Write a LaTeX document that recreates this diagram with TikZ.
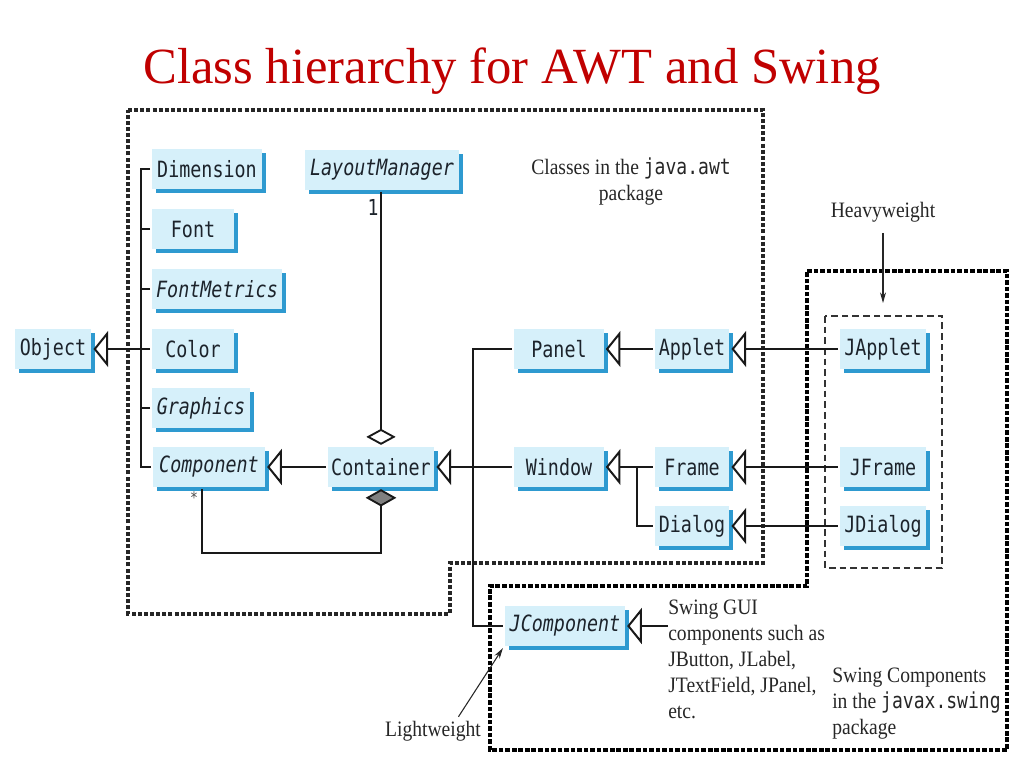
\documentclass[tikz,border=0pt]{standalone}
\usepackage{fontspec}
\setmainfont{Liberation Serif}
\newfontfamily\clsfont[FakeStretch=0.82]{DejaVu Sans Mono}
\newfontfamily\notefont[FakeStretch=0.89]{Liberation Serif}
\usetikzlibrary{arrows.meta,shadows}
\definecolor{boxfill}{HTML}{D6F0FA}
\definecolor{boxshadow}{HTML}{2E9AD0}
\definecolor{titlered}{HTML}{C00000}
\definecolor{clstext}{HTML}{1C232B}
\tikzset{
  cls/.style={rectangle, fill=boxfill, minimum height=30pt, inner sep=2pt, outer sep=1.6pt,
    font=\clsfont\fontsize{16.8pt}{18pt}\selectfont, text=clstext,
    drop shadow={shadow xshift=3pt, shadow yshift=-3pt, fill=boxshadow, opacity=1}},
  abs/.style={cls, font=\clsfont\itshape\fontsize{16.8pt}{18pt}\selectfont},
  link/.style={line width=1.9pt, draw=black!90},
  gen/.style={link, -{Triangle[open, length=11pt, width=27pt, line width=1.5pt]}},
  agg/.style={link, -{Diamond[open, length=12pt, width=22pt, line width=1.4pt]}},
  comp/.style={link, -{Diamond[fill=gray, length=13pt, width=23pt, line width=1.4pt]}},
  awtbox/.style={line width=2.4pt, draw=black!85, dash pattern=on 3pt off 1.6pt},
  swingbox/.style={line width=3pt, draw=black, dash pattern=on 3.5pt off 1.4pt},
  heavybox/.style={line width=0.9pt, draw=black!80, dash pattern=on 5pt off 3pt},
  note/.style={font=\notefont\fontsize{16.5pt}{19.5pt}\selectfont, text=black!85, inner sep=0pt},
  pointer/.style={line width=0.8pt, draw=black!85, -{Stealth[length=8pt, width=4.5pt]}},
}
\begin{document}
\begin{tikzpicture}[x=0.75pt, y=-0.75pt]
\useasboundingbox (0,0) rectangle (1024,768);

% title
\node[anchor=base, font=\fontsize{38pt}{44pt}\selectfont, text=titlered, inner sep=0pt] (title) at (512,83) {Class hierarchy for AWT and Swing};

% package boxes
\draw[awtbox] (128,110) -- (763,110) -- (763,563) -- (450,563) -- (450,614) -- (128,614) -- cycle;
\draw[swingbox] (807,271) -- (1007,271) -- (1007,750) -- (490,750) -- (490,586) -- (807,586) -- cycle;
\draw[heavybox] (825,316) rectangle (942,568);

% classes
\node[cls, minimum width=57.5pt] (Object) at (53,349) {Object};
\node[cls, minimum width=82pt] (Dimension) at (207,169) {Dimension};
\node[abs, minimum width=116pt] (LayoutManager) at (382,170) {LayoutManager};
\node[cls, minimum width=61pt] (Font) at (193,229) {Font};
\node[abs, minimum width=97pt] (FontMetrics) at (217,289) {FontMetrics};
\node[cls, minimum width=61pt] (Color) at (193,349) {Color};
\node[abs, minimum width=73pt] (Graphics) at (201,408) {Graphics};
\node[abs, minimum width=84pt] (Component) at (209,467) {Component};
\node[cls, minimum width=80pt] (Container) at (381,467) {Container};
\node[cls, minimum width=67pt] (Panel) at (559,349) {Panel};
\node[cls, minimum width=56pt] (Applet) at (692,349) {Applet};
\node[cls, minimum width=67pt] (Window) at (559,467) {Window};
\node[cls, minimum width=56pt] (Frame) at (692,467) {Frame};
\node[cls, minimum width=56pt] (Dialog) at (692,526) {Dialog};
\node[cls, minimum width=65pt] (JApplet) at (883,349) {JApplet};
\node[cls, minimum width=65pt] (JFrame) at (883,467) {JFrame};
\node[cls, minimum width=65pt] (JDialog) at (883,526) {JDialog};
\node[abs, minimum width=90pt] (JComponent) at (565,626) {JComponent};

% notes
\node[note, anchor=north, align=center] (awtnote) at (631,158) {Classes in the {\clsfont java.awt}\\package};
\node[note] (heavy) at (883,212) {Heavyweight};
\node[note, anchor=north west, align=left] (swingtxt) at (668,600) {Swing GUI\\components such as\\JButton, JLabel,\\JTextField, JPanel,\\etc.};
\node[note, anchor=north west, align=left] (swingnote) at (832,668) {Swing Components\\in the {\clsfont javax.swing}\\package};
\node[note] (light) at (433,731) {Lightweight};
\node[font=\clsfont\fontsize{16.5pt}{18pt}\selectfont, text=clstext, inner sep=0pt] (one) at (373,207) {1};
\node[font=\clsfont\fontsize{12pt}{14pt}\selectfont, text=black!70, inner sep=0pt] (star) at (194,498) {*};

% coordinates
\coordinate (t1) at (141,169);
\coordinate (t2) at (141,467);
\coordinate (c1) at (202,553);
\coordinate (c2) at (381,553);
\coordinate (pj1) at (473,349);
\coordinate (pj2) at (473,626);
\coordinate (d1) at (637,467);
\coordinate (heavytip) at (883,303);

% connectors
\draw[link] (Dimension.west) -- (t1) -- (t2) -- (Component.west);
\foreach \n in {Font,FontMetrics,Graphics}
  \draw[link] (\n.west) -- (\n.west -| t1);
\draw[gen] (Color.west) -- (Object.east);
\draw[gen] (Container.west) -- (Component.east);
\draw[agg] (Container.north |- LayoutManager.south) -- (Container.north);
\draw[comp] (c1 |- Component.south) -- (c1) -- (c2) -- (Container.south);
\draw[gen] (Window.west) -- (Container.east);
\draw[link] (Panel.west) -- (pj1) -- (pj2) -- (JComponent.west);
\draw[gen] (Applet.west) -- (Panel.east);
\draw[gen] (Frame.west) -- (Window.east);
\draw[link] (Dialog.west) -| (d1);
\draw[gen] (JApplet.west) -- (Applet.east);
\draw[gen] (JFrame.west) -- (Frame.east);
\draw[gen] (JDialog.west) -- (Dialog.east);
\draw[gen] (JComponent.east -| swingtxt.west) -- (JComponent.east);
\draw[pointer] ([yshift=-8pt]heavy.south) -- (heavytip);
\draw[pointer] ([xshift=-17pt, yshift=3pt]light.north east) -- (JComponent.south west);
\end{tikzpicture}
\end{document}
